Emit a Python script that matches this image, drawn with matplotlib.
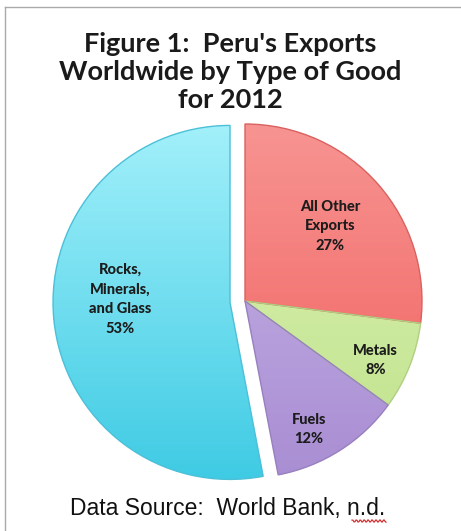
import matplotlib.pyplot as plt
import numpy as np
from matplotlib.colors import LinearSegmentedColormap

# Peru's exports by type of good, 2012 (percent)
categories = ['All Other\nExports', 'Metals', 'Fuels', 'Rocks,\nMinerals,\nand Glass']
shares = [27, 8, 12, 53]
top_colors = ['#F79492', '#DDF2B8', '#C9B5E8', '#A2F0FA']
bottom_colors = ['#F05E5B', '#BFE38A', '#A98ED3', '#3FCBE4']
edges = ['#D9615E', '#B0CF82', '#9880C0', '#4BC0D8']
explode = [0, 0, 0, 0.085]
label_dist = [0.64, 0.81, 0.81, 0.62]
label_turn = [0, -3, -6, -7]

fig = plt.figure(figsize=(4.61, 5.31), dpi=100)
ax = fig.add_axes([0, 0, 1, 1])

cx, cy, R = 245, 230, 177
wedges, _ = ax.pie(shares, colors=bottom_colors, startangle=90, counterclock=False,
                   explode=[e * R for e in explode], center=(cx, cy), radius=R,
                   wedgeprops=dict(linewidth=1.0))

# vertical shading inside each slice
grad = np.linspace(0, 1, 256).reshape(-1, 1)
for w, c1, c2, ec in zip(wedges, top_colors, bottom_colors, edges):
    cmap = LinearSegmentedColormap.from_list('g', [c2, c1])
    x0, y0 = w.center
    im = ax.imshow(grad, cmap=cmap, origin='lower', aspect='auto',
                   extent=(x0 - R, x0 + R, y0 - R, y0 + R), zorder=w.get_zorder())
    im.set_clip_path(w)
    w.set_facecolor('none')
    w.set_edgecolor(ec)
    w.set_zorder(w.get_zorder() + 0.5)

# slice labels
for w, cat, s, d, t in zip(wedges, categories, shares, label_dist, label_turn):
    mid = np.deg2rad((w.theta1 + w.theta2) / 2 + t)
    x0, y0 = w.center
    ax.text(x0 + d * R * np.cos(mid), y0 + d * R * np.sin(mid),
            f'{cat}\n{s}%', ha='center', va='center', fontsize=10.5,
            fontweight='black', family='Lato', color='#1c1c1c', linespacing=1.5,
            zorder=5)

ax.set_xlim(0, 461)
ax.set_ylim(0, 531)
ax.axis('off')

# title and source
fig.text(0.5, 1 - 72 / 531, "Figure 1:  Peru's Exports\nWorldwide by Type of Good\nfor 2012",
         ha='center', va='center', fontsize=19.5, fontweight='bold', family='Lato',
         color='#1a1a1a', linespacing=1.22)
fig.text(0.493, 1 - 509 / 531, 'Data Source:  World Bank, n.d.', ha='center', va='center',
         fontsize=16.5, family='Liberation Sans', color='#111111')

# spell-check squiggle under "n.d."
sx = np.linspace(352, 386, 35)
sy = 521 + 1.2 * np.sin(sx * 1.6)
fig.add_artist(plt.Line2D(sx / 461, 1 - sy / 531, transform=fig.transFigure,
                          color='#D23030', lw=0.9))

# thin frame on top and left
fig.add_artist(plt.Line2D([5 / 461, 1], [1 - 7 / 531] * 2, transform=fig.transFigure,
                          color='#AAAAAA', lw=1))
fig.add_artist(plt.Line2D([5 / 461] * 2, [0, 1 - 7 / 531], transform=fig.transFigure,
                          color='#AAAAAA', lw=1))

fig.savefig('out.png', dpi=100)
